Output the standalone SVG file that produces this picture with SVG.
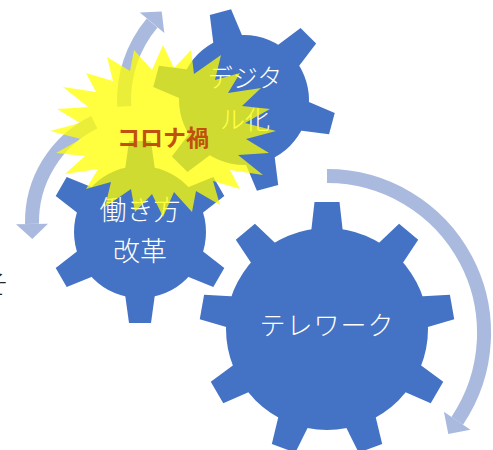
<svg xmlns="http://www.w3.org/2000/svg" width="493" height="450" viewBox="0 0 493 450">
<style>
.gear{fill:#4472C4}
.lbl{font-family:"Noto Sans CJK JP","Noto Sans",sans-serif;font-weight:300;fill:#FFFFFF;text-anchor:middle}
.arc{fill:none;stroke:#AABADF;stroke-width:14}
.head{fill:#AABADF}
.burst{fill:#FFFF00;fill-opacity:0.75}
.corona{font-family:"Noto Sans CJK JP","Noto Sans",sans-serif;font-weight:700;fill:#C0500E;text-anchor:middle}
</style>
<defs>
<path id="toothL" d="M-16,-96 L-12.5,-127 L12.5,-127 L16,-96 Z"/>
<path id="toothS" d="M-15,-62 L-11,-91 L11,-91 L15,-62 Z"/>
</defs>
<rect width="493" height="450" fill="#FFFFFF"/>
<text x="-17" y="294" font-size="26" font-family="'Noto Sans CJK JP',sans-serif" font-weight="300" fill="#222222">そ</text>

<g id="gear-telework">
<g class="gear" transform="translate(327,329)">
<circle r="101"/>
<use href="#toothL"/>
<use href="#toothL" transform="rotate(40)"/>
<use href="#toothL" transform="rotate(80)"/>
<use href="#toothL" transform="rotate(120)"/>
<use href="#toothL" transform="rotate(160)"/>
<use href="#toothL" transform="rotate(200)"/>
<use href="#toothL" transform="rotate(240)"/>
<use href="#toothL" transform="rotate(280)"/>
<use href="#toothL" transform="rotate(320)"/>
</g>
<text class="lbl" x="327" y="335" font-size="26" letter-spacing="1">テレワーク</text>
</g>

<g id="gear-workstyle">
<g class="gear" transform="translate(140,232)">
<circle r="66"/>
<use href="#toothS"/>
<use href="#toothS" transform="rotate(60)"/>
<use href="#toothS" transform="rotate(120)"/>
<use href="#toothS" transform="rotate(180)"/>
<use href="#toothS" transform="rotate(240)"/>
<use href="#toothS" transform="rotate(300)"/>
</g>
<text class="lbl" x="140" y="220" font-size="27">働き方</text>
<text class="lbl" x="140" y="261" font-size="27">改革</text>
</g>

<g id="gear-digital">
<g class="gear" transform="translate(244,100)">
<circle r="65"/>
<use href="#toothS" transform="rotate(-15)"/>
<use href="#toothS" transform="rotate(45)"/>
<use href="#toothS" transform="rotate(105)"/>
<use href="#toothS" transform="rotate(165)"/>
<use href="#toothS" transform="rotate(225)"/>
<use href="#toothS" transform="rotate(285)"/>
</g>
<text class="lbl" x="245" y="87" font-size="25">デジタ</text>
<text class="lbl" x="245" y="129" font-size="25">ル化</text>
</g>

<g id="connectors">
<path class="arc" d="M327,176 A157,157 0 0 1 457.2,420.8"/>
<polygon class="head" points="443.9,411.8 470.4,429.7 448.3,434.1"/>
<path class="arc" d="M124.2,106.3 A120,120 0 0 1 152.1,22.9"/>
<polygon class="head" points="139.8,12.6 164.3,33.1 161.7,11.4"/>
<path class="arc" d="M94.3,122.2 A111,111 0 0 0 32.0,223.9"/>
<polygon class="head" points="16.0,224.2 48.0,223.7 32.3,238.9"/>
</g>

<g id="corona">
<polygon class="burst" points="163,45 174,68 191,50 194,74 221,55 215,80 240,73 228,93 261,88 242,106 270,109 245,123 276,131 246,139 269,153 238,155 263,175 230,170 240,189 213,181 220,205 196,191 192,212 174,192 163,217 152,194 135,212 131,189 105,207 111,182 86,189 98,169 65,174 85,156 56,153 81,139 50,131 80,123 57,109 88,107 63,87 96,92 86,73 113,81 107,57 130,71 134,50 152,70"/>
<text class="corona" x="163" y="146" font-size="23">コロナ禍</text>
</g>
</svg>
